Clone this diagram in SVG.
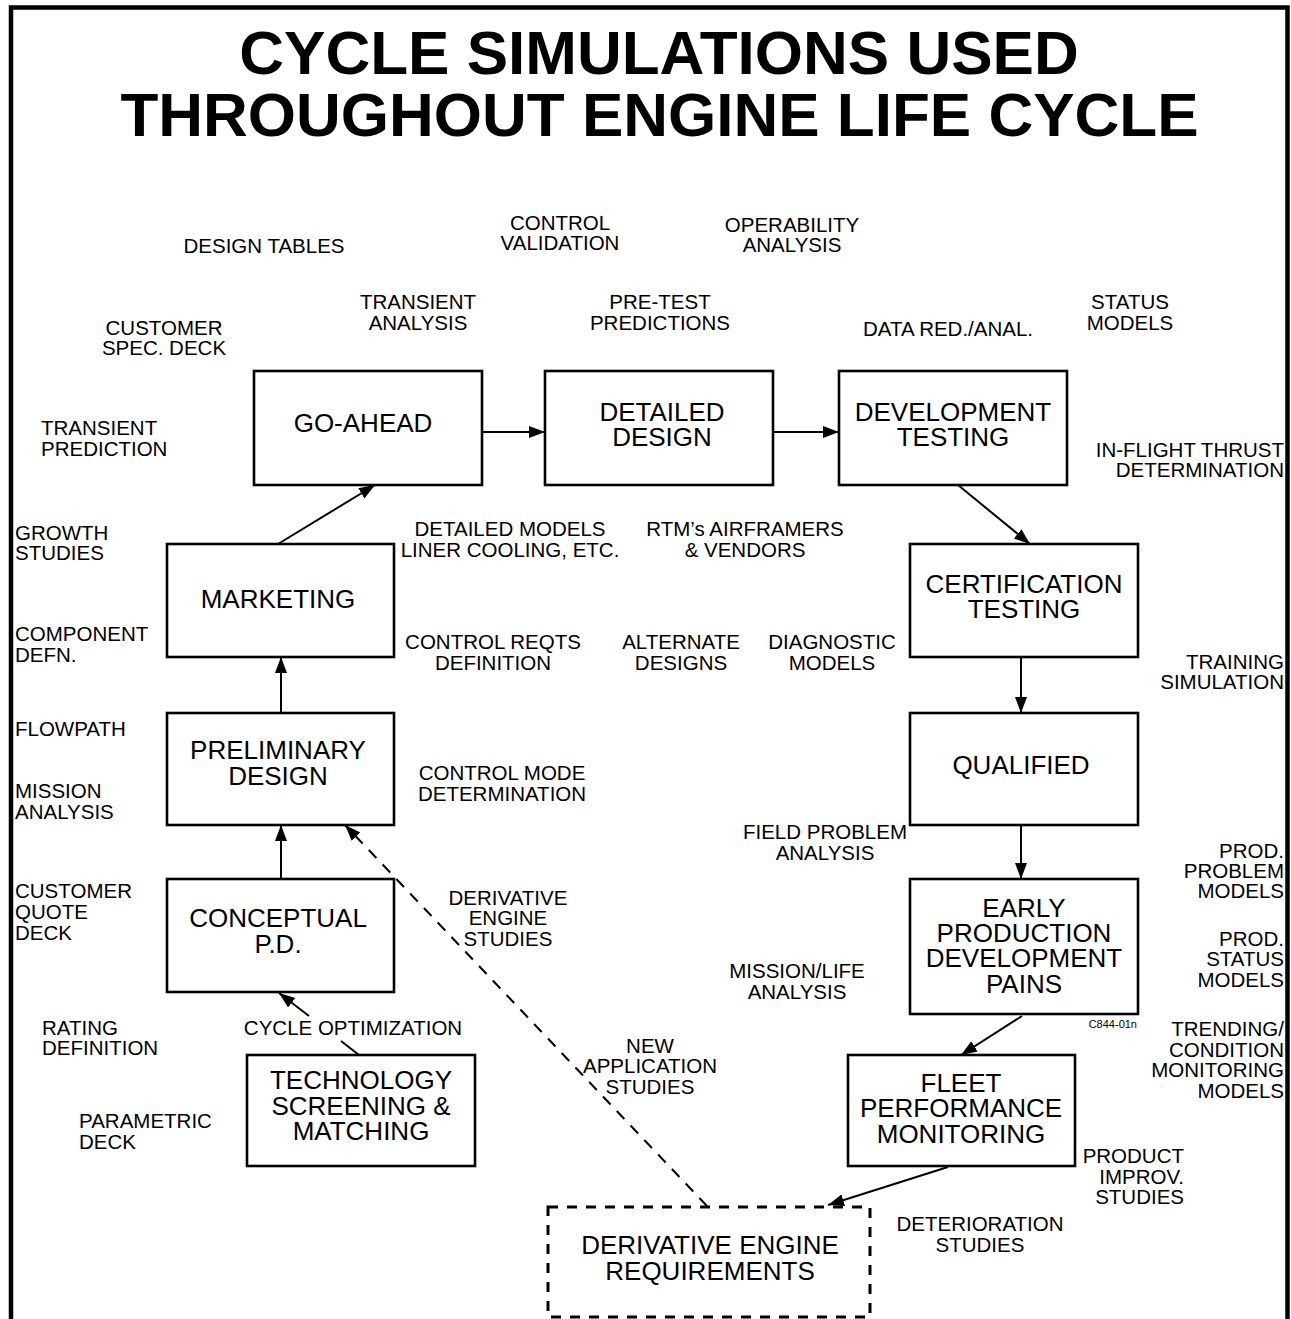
<svg xmlns="http://www.w3.org/2000/svg" width="1291" height="1319" viewBox="0 0 1291 1319">
<style>
.bg{fill:#fff}
.frame{fill:none;stroke:#000;stroke-width:4.5}
.box{fill:#fff;stroke:#000;stroke-width:2.6}
.dbox{fill:#fff;stroke:#000;stroke-width:3;stroke-dasharray:10 9}
.title{font-family:"Liberation Sans",Arial,sans-serif;font-weight:bold;font-size:62px;fill:#000;text-anchor:middle}
.bt{font-family:"Liberation Sans",Arial,sans-serif;font-size:26px;fill:#000;text-anchor:middle}
.lb{font-family:"Liberation Sans",Arial,sans-serif;font-size:20.5px;fill:#000}
.c{text-anchor:middle}
.l{text-anchor:start}
.r{text-anchor:end}
.sm{font-family:"Liberation Sans",Arial,sans-serif;font-size:11px;fill:#000;text-anchor:end}
.ln{fill:none;stroke:#000;stroke-width:2}
.dl{fill:none;stroke:#000;stroke-width:2;stroke-dasharray:11 9}
</style>
<defs>
<marker id="ah" markerUnits="userSpaceOnUse" markerWidth="17" markerHeight="13" refX="16" refY="6" orient="auto">
<path d="M0,0 L16,6 L0,12 z" fill="#000"/>
</marker>
</defs>
<rect class="bg" x="0" y="0" width="1291" height="1319"/>
<path class="frame" d="M11,1319 V7.5 H1287.5 V1319"/>
<g id="title">
<text class="title" x="659" y="74">CYCLE SIMULATIONS USED</text>
<text class="title" x="659.5" y="136">THROUGHOUT ENGINE LIFE CYCLE</text>
</g>
<g id="connectors">
<line class="ln" x1="482" y1="432" x2="545" y2="432" marker-end="url(#ah)"/>
<line class="ln" x1="773" y1="432" x2="839" y2="432" marker-end="url(#ah)"/>
<line class="ln" x1="958" y1="485" x2="1030" y2="544" marker-end="url(#ah)"/>
<line class="ln" x1="1021" y1="657" x2="1021" y2="713" marker-end="url(#ah)"/>
<line class="ln" x1="1021" y1="825" x2="1021" y2="879" marker-end="url(#ah)"/>
<line class="ln" x1="1022" y1="1016" x2="961" y2="1055" marker-end="url(#ah)"/>
<line class="ln" x1="948" y1="1167" x2="828" y2="1205" marker-end="url(#ah)"/>
<line class="ln" x1="341" y1="1041" x2="359" y2="1055"/>
<line class="ln" x1="309" y1="1016" x2="279" y2="993" marker-end="url(#ah)"/>
<line class="ln" x1="281" y1="879" x2="281" y2="825" marker-end="url(#ah)"/>
<line class="ln" x1="281" y1="713" x2="281" y2="657" marker-end="url(#ah)"/>
<line class="ln" x1="278" y1="544" x2="375" y2="485" marker-end="url(#ah)"/>
<line class="dl" x1="707" y1="1206" x2="345" y2="825" marker-end="url(#ah)"/>
</g>
<g id="go-ahead">
<rect class="box" x="254" y="371" width="228" height="114"/>
<text class="bt" x="363" y="432">GO-AHEAD</text>
</g>
<g id="detailed-design">
<rect class="box" x="545" y="371" width="228" height="114"/>
<text class="bt" x="662" y="421">DETAILED</text>
<text class="bt" x="662" y="446">DESIGN</text>
</g>
<g id="development-testing">
<rect class="box" x="839" y="371" width="228" height="114"/>
<text class="bt" x="953" y="421">DEVELOPMENT</text>
<text class="bt" x="953" y="446">TESTING</text>
</g>
<g id="certification-testing">
<rect class="box" x="910" y="544" width="228" height="113"/>
<text class="bt" x="1024" y="593">CERTIFICATION</text>
<text class="bt" x="1024" y="618">TESTING</text>
</g>
<g id="marketing">
<rect class="box" x="167" y="544" width="227" height="113"/>
<text class="bt" x="278" y="608">MARKETING</text>
</g>
<g id="preliminary-design">
<rect class="box" x="167" y="713" width="227" height="112"/>
<text class="bt" x="278" y="759">PRELIMINARY</text>
<text class="bt" x="278" y="785">DESIGN</text>
</g>
<g id="qualified">
<rect class="box" x="910" y="713" width="228" height="112"/>
<text class="bt" x="1021" y="774">QUALIFIED</text>
</g>
<g id="conceptual-pd">
<rect class="box" x="167" y="879" width="227" height="113"/>
<text class="bt" x="278" y="927">CONCEPTUAL</text>
<text class="bt" x="278" y="953">P.D.</text>
</g>
<g id="early-production">
<rect class="box" x="910" y="879" width="228" height="135"/>
<text class="bt" x="1024" y="917">EARLY</text>
<text class="bt" x="1024" y="942">PRODUCTION</text>
<text class="bt" x="1024" y="967">DEVELOPMENT</text>
<text class="bt" x="1024" y="993">PAINS</text>
</g>
<g id="technology-screening">
<rect class="box" x="247" y="1055" width="228" height="111"/>
<text class="bt" x="361" y="1089">TECHNOLOGY</text>
<text class="bt" x="361" y="1115">SCREENING &amp;</text>
<text class="bt" x="361" y="1140">MATCHING</text>
</g>
<g id="fleet-performance">
<rect class="box" x="848" y="1055" width="227" height="111"/>
<text class="bt" x="961" y="1092">FLEET</text>
<text class="bt" x="961" y="1117">PERFORMANCE</text>
<text class="bt" x="961" y="1143">MONITORING</text>
</g>
<g id="derivative-engine-requirements">
<rect class="dbox" x="548" y="1207" width="322" height="110"/>
<text class="bt" x="710" y="1254">DERIVATIVE ENGINE</text>
<text class="bt" x="710" y="1280">REQUIREMENTS</text>
</g>
<g id="labels">
<text class="lb c" x="264" y="253">DESIGN TABLES</text>
<text class="lb c" x="560" y="230">CONTROL</text>
<text class="lb c" x="560" y="250">VALIDATION</text>
<text class="lb c" x="792" y="232">OPERABILITY</text>
<text class="lb c" x="792" y="252">ANALYSIS</text>
<text class="lb c" x="418" y="309">TRANSIENT</text>
<text class="lb c" x="418" y="330">ANALYSIS</text>
<text class="lb c" x="660" y="309">PRE-TEST</text>
<text class="lb c" x="660" y="330">PREDICTIONS</text>
<text class="lb c" x="1130" y="309">STATUS</text>
<text class="lb c" x="1130" y="330">MODELS</text>
<text class="lb c" x="948" y="336">DATA RED./ANAL.</text>
<text class="lb c" x="164" y="335">CUSTOMER</text>
<text class="lb c" x="164" y="355">SPEC. DECK</text>
<text class="lb l" x="41" y="435">TRANSIENT</text>
<text class="lb l" x="41" y="456">PREDICTION</text>
<text class="lb r" x="1284" y="457">IN-FLIGHT THRUST</text>
<text class="lb r" x="1284" y="477">DETERMINATION</text>
<text class="lb l" x="15" y="540">GROWTH</text>
<text class="lb l" x="15" y="560">STUDIES</text>
<text class="lb c" x="510" y="536">DETAILED MODELS</text>
<text class="lb c" x="510" y="557">LINER COOLING, ETC.</text>
<text class="lb c" x="745" y="536">RTM’s AIRFRAMERS</text>
<text class="lb c" x="745" y="557">&amp; VENDORS</text>
<text class="lb l" x="15" y="641">COMPONENT</text>
<text class="lb l" x="15" y="662">DEFN.</text>
<text class="lb c" x="493" y="649">CONTROL REQTS</text>
<text class="lb c" x="493" y="670">DEFINITION</text>
<text class="lb c" x="681" y="649">ALTERNATE</text>
<text class="lb c" x="681" y="670">DESIGNS</text>
<text class="lb c" x="832" y="649">DIAGNOSTIC</text>
<text class="lb c" x="832" y="670">MODELS</text>
<text class="lb r" x="1284" y="669">TRAINING</text>
<text class="lb r" x="1284" y="689">SIMULATION</text>
<text class="lb l" x="15" y="736">FLOWPATH</text>
<text class="lb l" x="15" y="798">MISSION</text>
<text class="lb l" x="15" y="819">ANALYSIS</text>
<text class="lb c" x="502" y="780">CONTROL MODE</text>
<text class="lb c" x="502" y="801">DETERMINATION</text>
<text class="lb c" x="825" y="839">FIELD PROBLEM</text>
<text class="lb c" x="825" y="860">ANALYSIS</text>
<text class="lb r" x="1284" y="858">PROD.</text>
<text class="lb r" x="1284" y="878">PROBLEM</text>
<text class="lb r" x="1284" y="898">MODELS</text>
<text class="lb l" x="15" y="898">CUSTOMER</text>
<text class="lb l" x="15" y="919">QUOTE</text>
<text class="lb l" x="15" y="940">DECK</text>
<text class="lb c" x="508" y="905">DERIVATIVE</text>
<text class="lb c" x="508" y="925">ENGINE</text>
<text class="lb c" x="508" y="946">STUDIES</text>
<text class="lb r" x="1284" y="946">PROD.</text>
<text class="lb r" x="1284" y="966">STATUS</text>
<text class="lb r" x="1284" y="987">MODELS</text>
<text class="lb c" x="797" y="978">MISSION/LIFE</text>
<text class="lb c" x="797" y="999">ANALYSIS</text>
<text class="lb l" x="42" y="1035">RATING</text>
<text class="lb l" x="42" y="1055">DEFINITION</text>
<text class="lb c" x="353" y="1035">CYCLE OPTIMIZATION</text>
<text class="lb r" x="1284" y="1036">TRENDING/</text>
<text class="lb r" x="1284" y="1057">CONDITION</text>
<text class="lb r" x="1284" y="1077">MONITORING</text>
<text class="lb r" x="1284" y="1098">MODELS</text>
<text class="lb c" x="650" y="1053">NEW</text>
<text class="lb c" x="650" y="1073">APPLICATION</text>
<text class="lb c" x="650" y="1094">STUDIES</text>
<text class="lb l" x="79" y="1128">PARAMETRIC</text>
<text class="lb l" x="79" y="1149">DECK</text>
<text class="lb r" x="1184" y="1163">PRODUCT</text>
<text class="lb r" x="1184" y="1184">IMPROV.</text>
<text class="lb r" x="1184" y="1204">STUDIES</text>
<text class="lb c" x="980" y="1231">DETERIORATION</text>
<text class="lb c" x="980" y="1252">STUDIES</text>
<text class="sm" x="1137" y="1028">C844-01n</text>
</g>
</svg>
